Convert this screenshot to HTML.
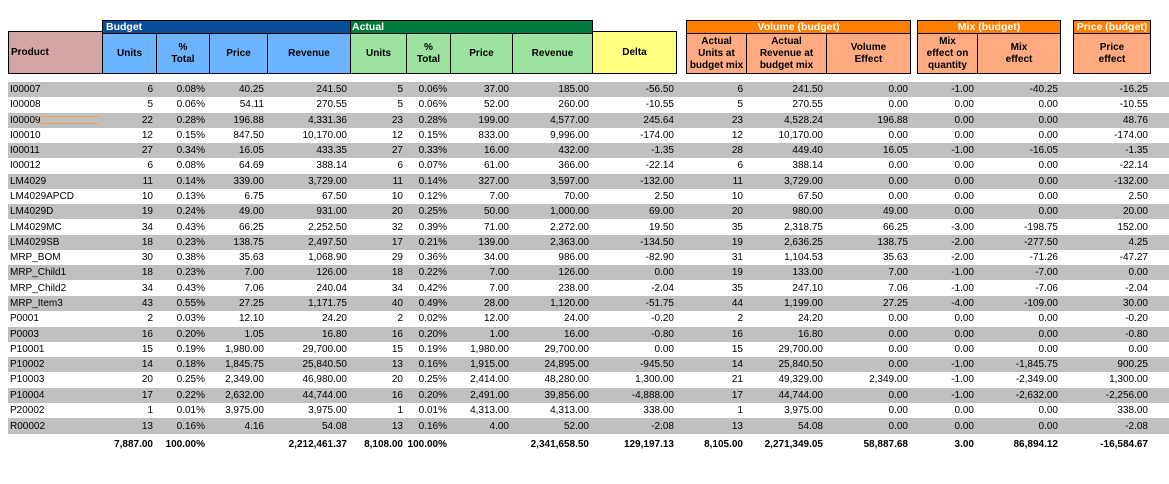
<!DOCTYPE html>
<html><head><meta charset="utf-8"><style>
*{box-sizing:border-box;margin:0;padding:0}
body{width:1169px;height:484px;background:#fff;position:relative;overflow:hidden;font-family:"Liberation Sans",Arial,sans-serif;font-size:10px;color:#000}
.b{position:absolute;border:1px solid #000;font-weight:bold;display:flex;align-items:center;justify-content:center;text-align:center;line-height:12px}
.t{position:absolute;border:1px solid #000;font-weight:bold;color:#fff;line-height:12px;font-size:10.5px}
.r{position:absolute;left:8px;height:15px;width:1161px;display:flex;align-items:center;white-space:nowrap}
.g{background:#c0c0c0}
.r span{display:block;text-align:right;padding-right:3px;overflow:visible}
.r span:nth-child(1){width:94px;text-align:left;padding-left:2px}
.r span:nth-child(2){width:54px}.r span:nth-child(3){width:53px;padding-right:4px}.r span:nth-child(4){width:58px}
.r span:nth-child(5){width:83px}.r span:nth-child(6){width:56px}.r span:nth-child(7){width:44px}
.r span:nth-child(8){width:62px}.r span:nth-child(9){width:80px}.r span:nth-child(10){width:85px}
.r span:nth-child(11){width:9px}.r span:nth-child(12){width:60px}.r span:nth-child(13){width:80px}
.r span:nth-child(14){width:85px}.r span:nth-child(15){width:6px}.r span:nth-child(16){width:60px}
.r span:nth-child(17){width:84px}.r span:nth-child(18){width:12px}.r span:nth-child(19){width:78px}
.tot{font-weight:bold}
</style></head><body>
<div class="b" style="left:8px;top:31px;width:95px;height:43px;background:#d4a5a5;justify-content:flex-start;padding-left:2px">Product</div>
<div class="t" style="left:102px;top:20px;width:249px;height:14px;background:#0b4f9c;padding-left:3px">Budget</div>
<div class="t" style="left:350px;top:20px;width:243px;height:14px;background:#007a3d;padding-left:1px">Actual</div>
<div class="b" style="left:102px;top:33px;width:55px;height:41px;background:#6cb4ff">Units</div>
<div class="b" style="left:156px;top:33px;width:54px;height:41px;background:#6cb4ff">%<br>Total</div>
<div class="b" style="left:209px;top:33px;width:59px;height:41px;background:#6cb4ff">Price</div>
<div class="b" style="left:267px;top:33px;width:84px;height:41px;background:#6cb4ff">Revenue</div>
<div class="b" style="left:350px;top:33px;width:57px;height:41px;background:#9be39f">Units</div>
<div class="b" style="left:406px;top:33px;width:45px;height:41px;background:#9be39f">%<br>Total</div>
<div class="b" style="left:450px;top:33px;width:63px;height:41px;background:#9be39f">Price</div>
<div class="b" style="left:512px;top:33px;width:81px;height:41px;background:#9be39f">Revenue</div>
<div class="b" style="left:592px;top:31px;width:85px;height:43px;background:#ffff80">Delta</div>
<div class="t" style="left:686px;top:20px;width:225px;height:14px;background:#ff8000;text-align:center">Volume (budget)</div>
<div class="b" style="left:686px;top:33px;width:61px;height:41px;background:#ffaa80">Actual<br>Units at<br>budget mix</div>
<div class="b" style="left:746px;top:33px;width:81px;height:41px;background:#ffaa80">Actual<br>Revenue at<br>budget mix</div>
<div class="b" style="left:826px;top:33px;width:85px;height:41px;background:#ffaa80">Volume<br>Effect</div>
<div class="t" style="left:917px;top:20px;width:144px;height:14px;background:#ff8000;text-align:center">Mix (budget)</div>
<div class="b" style="left:917px;top:33px;width:61px;height:41px;background:#ffaa80">Mix<br>effect on<br>quantity</div>
<div class="b" style="left:977px;top:33px;width:84px;height:41px;background:#ffaa80">Mix<br>effect</div>
<div class="t" style="left:1073px;top:20px;width:78px;height:14px;background:#ff8000;text-align:center">Price (budget)</div>
<div class="b" style="left:1073px;top:33px;width:78px;height:41px;background:#ffaa80">Price<br>effect</div>

<div class="r g" style="top:82px"><span>I00007</span><span>6</span><span>0.08%</span><span>40.25</span><span>241.50</span><span>5</span><span>0.06%</span><span>37.00</span><span>185.00</span><span>-56.50</span><span></span><span>6</span><span>241.50</span><span>0.00</span><span></span><span>-1.00</span><span>-40.25</span><span></span><span>-16.25</span></div>
<div class="r" style="top:97.3px"><span>I00008</span><span>5</span><span>0.06%</span><span>54.11</span><span>270.55</span><span>5</span><span>0.06%</span><span>52.00</span><span>260.00</span><span>-10.55</span><span></span><span>5</span><span>270.55</span><span>0.00</span><span></span><span>0.00</span><span>0.00</span><span></span><span>-10.55</span></div>
<div class="r g" style="top:112.6px"><span>I00009</span><span>22</span><span>0.28%</span><span>196.88</span><span>4,331.36</span><span>23</span><span>0.28%</span><span>199.00</span><span>4,577.00</span><span>245.64</span><span></span><span>23</span><span>4,528.24</span><span>196.88</span><span></span><span>0.00</span><span>0.00</span><span></span><span>48.76</span></div>
<div style="position:absolute;left:36px;top:116px;width:66px;height:8px;border:1px solid #ffa060;border-radius:3px;border-left:none"></div>
<div class="r" style="top:127.8px"><span>I00010</span><span>12</span><span>0.15%</span><span>847.50</span><span>10,170.00</span><span>12</span><span>0.15%</span><span>833.00</span><span>9,996.00</span><span>-174.00</span><span></span><span>12</span><span>10,170.00</span><span>0.00</span><span></span><span>0.00</span><span>0.00</span><span></span><span>-174.00</span></div>
<div class="r g" style="top:143.1px"><span>I00011</span><span>27</span><span>0.34%</span><span>16.05</span><span>433.35</span><span>27</span><span>0.33%</span><span>16.00</span><span>432.00</span><span>-1.35</span><span></span><span>28</span><span>449.40</span><span>16.05</span><span></span><span>-1.00</span><span>-16.05</span><span></span><span>-1.35</span></div>
<div class="r" style="top:158.4px"><span>I00012</span><span>6</span><span>0.08%</span><span>64.69</span><span>388.14</span><span>6</span><span>0.07%</span><span>61.00</span><span>366.00</span><span>-22.14</span><span></span><span>6</span><span>388.14</span><span>0.00</span><span></span><span>0.00</span><span>0.00</span><span></span><span>-22.14</span></div>
<div class="r g" style="top:173.7px"><span>LM4029</span><span>11</span><span>0.14%</span><span>339.00</span><span>3,729.00</span><span>11</span><span>0.14%</span><span>327.00</span><span>3,597.00</span><span>-132.00</span><span></span><span>11</span><span>3,729.00</span><span>0.00</span><span></span><span>0.00</span><span>0.00</span><span></span><span>-132.00</span></div>
<div class="r" style="top:189px"><span>LM4029APCD</span><span>10</span><span>0.13%</span><span>6.75</span><span>67.50</span><span>10</span><span>0.12%</span><span>7.00</span><span>70.00</span><span>2.50</span><span></span><span>10</span><span>67.50</span><span>0.00</span><span></span><span>0.00</span><span>0.00</span><span></span><span>2.50</span></div>
<div class="r g" style="top:204.2px"><span>LM4029D</span><span>19</span><span>0.24%</span><span>49.00</span><span>931.00</span><span>20</span><span>0.25%</span><span>50.00</span><span>1,000.00</span><span>69.00</span><span></span><span>20</span><span>980.00</span><span>49.00</span><span></span><span>0.00</span><span>0.00</span><span></span><span>20.00</span></div>
<div class="r" style="top:219.5px"><span>LM4029MC</span><span>34</span><span>0.43%</span><span>66.25</span><span>2,252.50</span><span>32</span><span>0.39%</span><span>71.00</span><span>2,272.00</span><span>19.50</span><span></span><span>35</span><span>2,318.75</span><span>66.25</span><span></span><span>-3.00</span><span>-198.75</span><span></span><span>152.00</span></div>
<div class="r g" style="top:234.8px"><span>LM4029SB</span><span>18</span><span>0.23%</span><span>138.75</span><span>2,497.50</span><span>17</span><span>0.21%</span><span>139.00</span><span>2,363.00</span><span>-134.50</span><span></span><span>19</span><span>2,636.25</span><span>138.75</span><span></span><span>-2.00</span><span>-277.50</span><span></span><span>4.25</span></div>
<div class="r" style="top:250.1px"><span>MRP_BOM</span><span>30</span><span>0.38%</span><span>35.63</span><span>1,068.90</span><span>29</span><span>0.36%</span><span>34.00</span><span>986.00</span><span>-82.90</span><span></span><span>31</span><span>1,104.53</span><span>35.63</span><span></span><span>-2.00</span><span>-71.26</span><span></span><span>-47.27</span></div>
<div class="r g" style="top:265.4px"><span>MRP_Child1</span><span>18</span><span>0.23%</span><span>7.00</span><span>126.00</span><span>18</span><span>0.22%</span><span>7.00</span><span>126.00</span><span>0.00</span><span></span><span>19</span><span>133.00</span><span>7.00</span><span></span><span>-1.00</span><span>-7.00</span><span></span><span>0.00</span></div>
<div class="r" style="top:280.6px"><span>MRP_Child2</span><span>34</span><span>0.43%</span><span>7.06</span><span>240.04</span><span>34</span><span>0.42%</span><span>7.00</span><span>238.00</span><span>-2.04</span><span></span><span>35</span><span>247.10</span><span>7.06</span><span></span><span>-1.00</span><span>-7.06</span><span></span><span>-2.04</span></div>
<div class="r g" style="top:295.9px"><span>MRP_Item3</span><span>43</span><span>0.55%</span><span>27.25</span><span>1,171.75</span><span>40</span><span>0.49%</span><span>28.00</span><span>1,120.00</span><span>-51.75</span><span></span><span>44</span><span>1,199.00</span><span>27.25</span><span></span><span>-4.00</span><span>-109.00</span><span></span><span>30.00</span></div>
<div class="r" style="top:311.2px"><span>P0001</span><span>2</span><span>0.03%</span><span>12.10</span><span>24.20</span><span>2</span><span>0.02%</span><span>12.00</span><span>24.00</span><span>-0.20</span><span></span><span>2</span><span>24.20</span><span>0.00</span><span></span><span>0.00</span><span>0.00</span><span></span><span>-0.20</span></div>
<div class="r g" style="top:326.5px"><span>P0003</span><span>16</span><span>0.20%</span><span>1.05</span><span>16.80</span><span>16</span><span>0.20%</span><span>1.00</span><span>16.00</span><span>-0.80</span><span></span><span>16</span><span>16.80</span><span>0.00</span><span></span><span>0.00</span><span>0.00</span><span></span><span>-0.80</span></div>
<div class="r" style="top:341.8px"><span>P10001</span><span>15</span><span>0.19%</span><span>1,980.00</span><span>29,700.00</span><span>15</span><span>0.19%</span><span>1,980.00</span><span>29,700.00</span><span>0.00</span><span></span><span>15</span><span>29,700.00</span><span>0.00</span><span></span><span>0.00</span><span>0.00</span><span></span><span>0.00</span></div>
<div class="r g" style="top:357px"><span>P10002</span><span>14</span><span>0.18%</span><span>1,845.75</span><span>25,840.50</span><span>13</span><span>0.16%</span><span>1,915.00</span><span>24,895.00</span><span>-945.50</span><span></span><span>14</span><span>25,840.50</span><span>0.00</span><span></span><span>-1.00</span><span>-1,845.75</span><span></span><span>900.25</span></div>
<div class="r" style="top:372.3px"><span>P10003</span><span>20</span><span>0.25%</span><span>2,349.00</span><span>46,980.00</span><span>20</span><span>0.25%</span><span>2,414.00</span><span>48,280.00</span><span>1,300.00</span><span></span><span>21</span><span>49,329.00</span><span>2,349.00</span><span></span><span>-1.00</span><span>-2,349.00</span><span></span><span>1,300.00</span></div>
<div class="r g" style="top:387.6px"><span>P10004</span><span>17</span><span>0.22%</span><span>2,632.00</span><span>44,744.00</span><span>16</span><span>0.20%</span><span>2,491.00</span><span>39,856.00</span><span>-4,888.00</span><span></span><span>17</span><span>44,744.00</span><span>0.00</span><span></span><span>-1.00</span><span>-2,632.00</span><span></span><span>-2,256.00</span></div>
<div class="r" style="top:402.9px"><span>P20002</span><span>1</span><span>0.01%</span><span>3,975.00</span><span>3,975.00</span><span>1</span><span>0.01%</span><span>4,313.00</span><span>4,313.00</span><span>338.00</span><span></span><span>1</span><span>3,975.00</span><span>0.00</span><span></span><span>0.00</span><span>0.00</span><span></span><span>338.00</span></div>
<div class="r g" style="top:418.2px;height:16px"><span>R00002</span><span>13</span><span>0.16%</span><span>4.16</span><span>54.08</span><span>13</span><span>0.16%</span><span>4.00</span><span>52.00</span><span>-2.08</span><span></span><span>13</span><span>54.08</span><span>0.00</span><span></span><span>0.00</span><span>0.00</span><span></span><span>-2.08</span></div>
<div class="r tot" style="top:437px"><span></span><span>7,887.00</span><span>100.00%</span><span></span><span>2,212,461.37</span><span>8,108.00</span><span>100.00%</span><span></span><span>2,341,658.50</span><span>129,197.13</span><span></span><span>8,105.00</span><span>2,271,349.05</span><span>58,887.68</span><span></span><span>3.00</span><span>86,894.12</span><span></span><span>-16,584.67</span></div>
</body></html>
